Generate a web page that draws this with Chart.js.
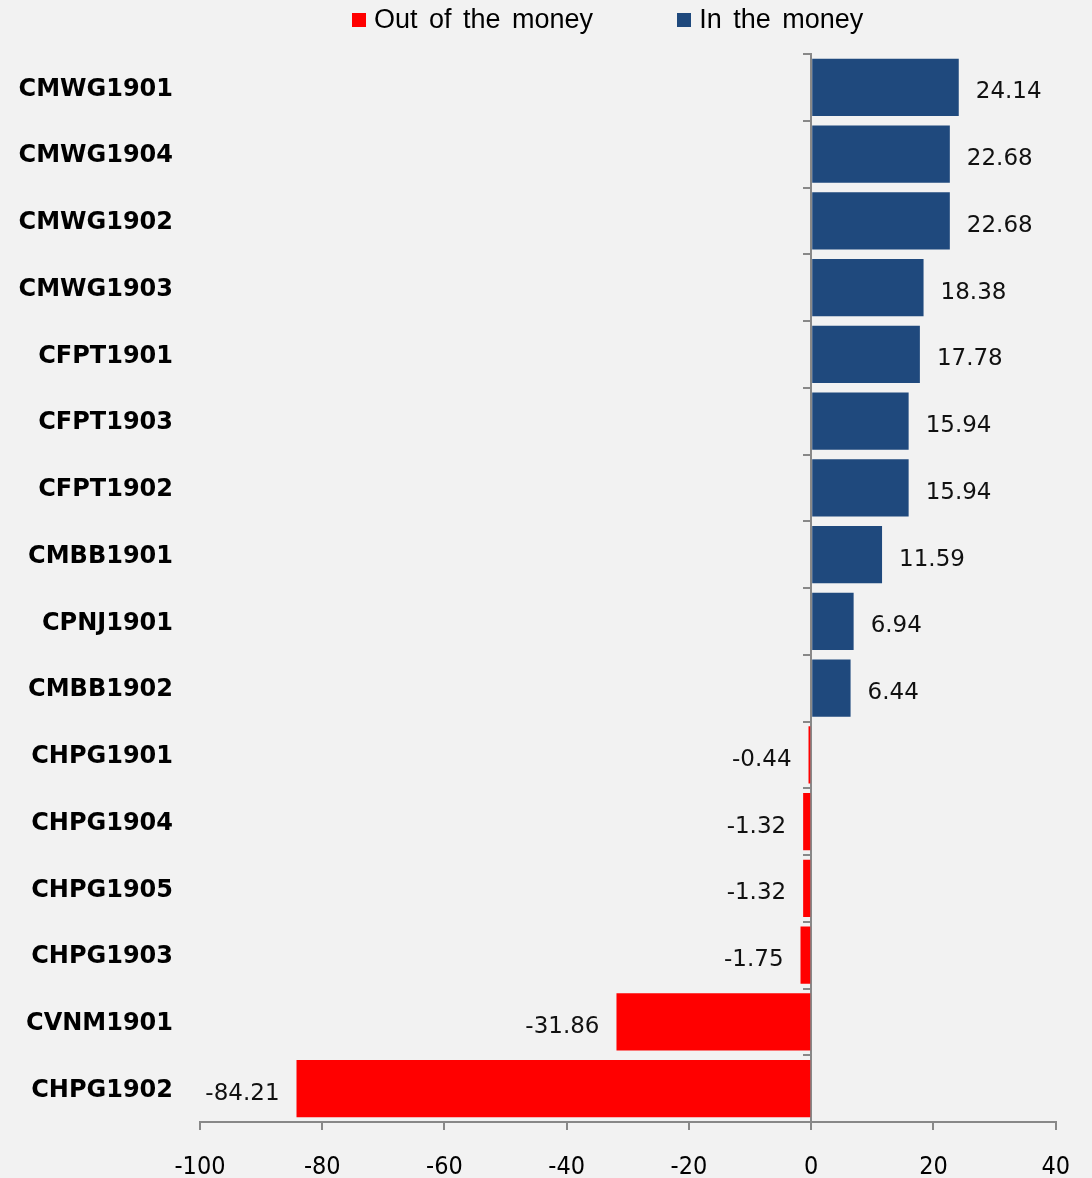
<!DOCTYPE html>
<html>
<head>
<meta charset="utf-8">
<script src="https://cdn.jsdelivr.net/npm/chart.js@4/dist/chart.umd.min.js"></script>
<style>
    body { margin: 0; background: #f2f2f2; }
    #wrap { position: relative; width: 1092px; height: 1178px; }
    #legend { position: absolute; left: 352px; top: 4px; font: 27px "Liberation Sans", Arial, sans-serif; color: #000; word-spacing: 4px; white-space: nowrap; }
    #legend span.box { display: inline-block; width: 14px; height: 14px; margin-right: 8px; vertical-align: 1px; }
    #legend span.item { margin-right: 84px; }
</style>
</head>
<body>
<div id="wrap">
    <canvas id="barChart"></canvas>
    <div id="legend">
        <span class="item"><span class="box" style="background:#ff0000"></span>Out of the money</span><span><span class="box" style="background:#1f497d"></span>In the money</span>
    </div>
</div>
<script>
// categories, top to bottom
const categories = ['CMWG1901', 'CMWG1904', 'CMWG1902', 'CMWG1903', 'CFPT1901', 'CFPT1903', 'CFPT1902', 'CMBB1901',
    'CPNJ1901', 'CMBB1902', 'CHPG1901', 'CHPG1904', 'CHPG1905', 'CHPG1903', 'CVNM1901', 'CHPG1902'];
const outOfMoney = [null, null, null, null, null, null, null, null, null, null, -0.44, -1.32, -1.32, -1.75, -31.86, -84.21];
const inMoney = [24.14, 22.68, 22.68, 18.38, 17.78, 15.94, 15.94, 11.59, 6.94, 6.44, null, null, null, null, null, null];
const xTicks = [-100, -80, -60, -40, -20, 0, 20, 40];

// value labels next to each bar
const valueLabels = {
    id: 'valueLabels',
    afterDatasetsDraw(chart) {
        const ctx = chart.ctx;
        ctx.save();
        ctx.font = '23px "DejaVu Sans", Verdana, sans-serif';
        ctx.fillStyle = '#111';
        ctx.textBaseline = 'middle';
        chart.data.datasets.forEach((ds, i) => {
            chart.getDatasetMeta(i).data.forEach((bar, j) => {
                const v = ds.data[j];
                if (v === null) return;
                if (v >= 0) {
                    ctx.textAlign = 'left';
                    ctx.fillText(v.toFixed(2), bar.x + 17, bar.y + 5);
                } else {
                    ctx.textAlign = 'right';
                    ctx.fillText(v.toFixed(2), bar.x - 17, bar.y + 5);
                }
            });
        });
        ctx.restore();
    }
};

const ctx = document.getElementById('barChart').getContext('2d');
new Chart(ctx, {
    type: 'bar',
    data: {
        labels: categories,
        datasets: [{
            label: 'Out of the money',
            data: outOfMoney,
            backgroundColor: '#ff0000',
            categoryPercentage: 1,
            barPercentage: 0.86
        }, {
            label: 'In the money',
            data: inMoney,
            backgroundColor: '#1f497d',
            categoryPercentage: 1,
            barPercentage: 0.86
        }]
    },
    options: {
        indexAxis: 'y',
        responsive: true,
        maintainAspectRatio: false,
        animation: false,
        layout: { padding: { top: 54, right: 35, left: 0, bottom: 0 } },
        plugins: {
            legend: { display: false },
            tooltip: { enabled: false }
        },
        scales: {
            x: {
                stacked: true,
                min: -100,
                max: 40,
                afterBuildTicks: scale => { scale.ticks = xTicks.map(v => ({ value: v })); },
                afterFit: scale => { scale.height = 56; },
                grid: { drawOnChartArea: false, tickLength: 8, color: '#888', lineWidth: 2 },
                border: { color: '#888', width: 2 },
                ticks: {
                    padding: 22,
                    color: '#000',
                    font: { family: '"DejaVu Sans Condensed", "Liberation Sans Narrow", sans-serif', size: 25 }
                }
            },
            y: {
                stacked: true,
                offset: true,
                position: { x: 0 },
                grid: { offset: true, drawOnChartArea: false, tickLength: 7, color: '#888', lineWidth: 2 },
                border: { color: '#888', width: 2 },
                ticks: { display: false }
            },
            yl: {
                type: 'category',
                axis: 'y',
                position: 'left',
                offset: true,
                afterFit: scale => { scale.width = 200; },
                grid: { display: false },
                border: { display: false },
                ticks: {
                    padding: 19,
                    labelOffset: 2,
                    color: '#000',
                    font: { family: '"DejaVu Sans", Verdana, sans-serif', size: 24, weight: 'bold' }
                }
            }
        }
    },
    plugins: [valueLabels]
});
</script>
</body>
</html>
